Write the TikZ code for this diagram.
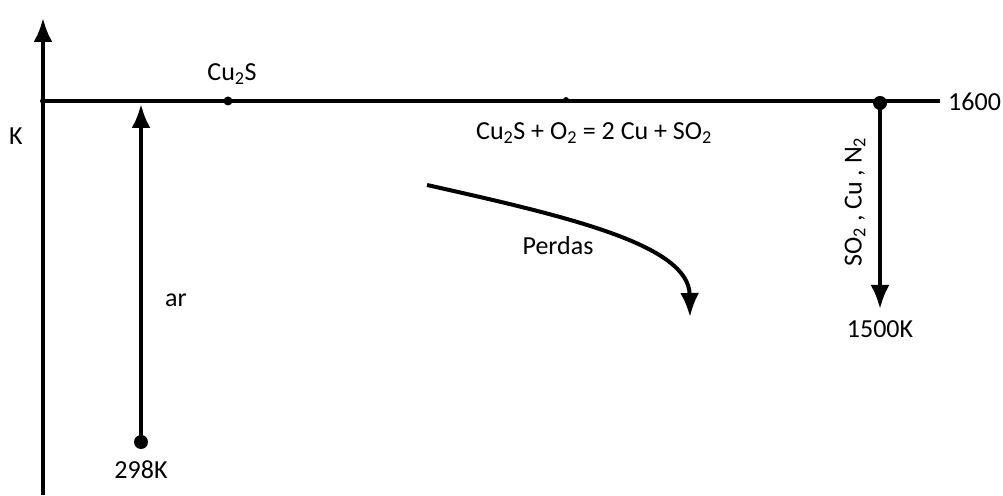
\documentclass[tikz,border=0pt]{standalone}
\usepackage{fontspec}
\setmainfont{Carlito}
\usetikzlibrary{arrows.meta}
\tikzset{
  flow/.style={line width=4pt,-{Latex[length=24pt,width=19pt]}},
  rule/.style={line width=4pt},
  lbl/.style={inner sep=0pt,font=\fontsize{26}{30}\selectfont},
}

\begin{document}
\begin{tikzpicture}[x=1pt,y=1pt]

  \useasboundingbox (0,0) rectangle (1003,495);

  % ---------------------------------------------------------------- AXIS + STREAM
  \coordinate (base) at (43,0);
  \coordinate (top) at (43,477);
  \coordinate (origin) at (43,394);
  \coordinate (tail) at (940,394);
  \draw[flow] (base) -- (top);
  \draw[rule] (origin) -- (tail);
  \fill (origin) circle (3);
  \node[lbl,anchor=west] (tmax) at (948,393) {1600};
  \node[lbl] (kunit) at (16,359) {K};

  \coordinate (feed) at (228,394);
  \fill (feed) circle (4.5);
  \node[lbl] (feedlbl) at (232,421) {Cu\textsubscript{2}S};
  \coordinate (react) at (566,395);
  \fill (react) circle (3);
  \node[lbl] (reaction) at (594,362)
    {Cu\textsubscript{2}S + O\textsubscript{2} = 2 Cu + SO\textsubscript{2}};

  % ---------------------------------------------------------------- AIR INLET
  \coordinate (airin) at (141,53);
  \coordinate (airout) at (141,391);
  \fill (airin) circle (7);
  \draw[flow] (airin) -- (airout);
  \node[lbl] (air) at (176,195) {ar};
  \node[lbl] (tair) at (141,25) {298K};

  % ---------------------------------------------------------------- PRODUCTS
  \coordinate (prodin) at (880,392);
  \coordinate (prodout) at (880,186);
  \fill (prodin) circle (7);
  \draw[flow] (prodin) -- (prodout);
  \node[lbl,rotate=90] (prod) at (855,293)
    {SO\textsubscript{2} , Cu , N\textsubscript{2}};
  \node[lbl] (tprod) at (880,166) {1500K};

  % ---------------------------------------------------------------- LOSSES
  \coordinate (lossin) at (427,310);
  \coordinate (lossout) at (690,178);
  \draw[flow] (lossin) .. controls (570,278) and (689,250) .. (lossout);
  \node[lbl] (loss) at (558,249) {Perdas};

\end{tikzpicture}
\end{document}
